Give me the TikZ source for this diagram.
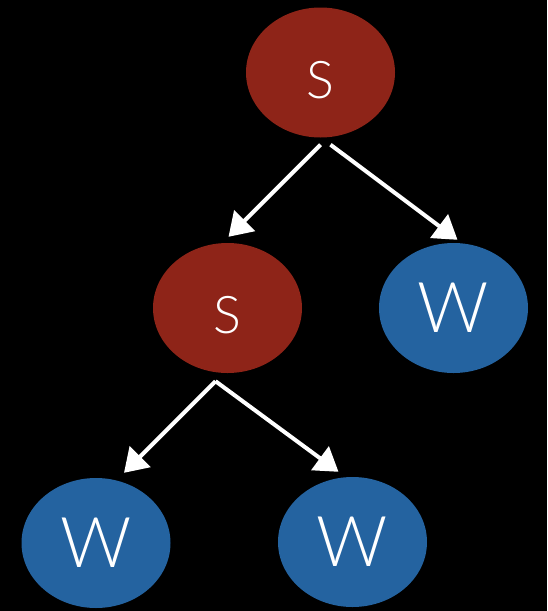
\documentclass[tikz,border=0pt]{standalone}
\usepackage{fontspec}
\newfontfamily\nodefont{Lato Light}
\usetikzlibrary{arrows.meta,shapes.geometric}

\definecolor{sred}{HTML}{8E2418}
\definecolor{wblue}{HTML}{2463A0}

\tikzset{
  tree/.style={ellipse, minimum width=149pt, minimum height=130pt, inner sep=0pt, text=white},
  snode/.style={tree, fill=sred, text height=51pt, text depth=0pt, font=\nodefont\fontsize{52}{52}\selectfont},
  wnode/.style={tree, fill=wblue, font=\nodefont\fontsize{70}{70}\selectfont},
  edge/.style={draw=white, line width=4pt, -{Triangle[width=29pt,length=23pt]}}
}

\begin{document}
\begin{tikzpicture}[x=1pt, y=-1pt]
  \fill[black] (0,0) rectangle (547,611);
  \useasboundingbox (0,0) rectangle (547,611);

  \node[snode] (root) at (320.5,72.5) {S};
  \node[snode] (left) at (227.5,308) {S};
  \node[wnode] (right) at (453.5,308) {W};
  \node[wnode] (ll) at (96,543) {W};
  \node[wnode] (lr) at (352.5,542) {W};

  \draw[edge] ([shift={(0,7)}]root.south) -- ([shift={(1,-6)}]left.north);
  \draw[edge] ([shift={(10,7)}]root.south) -- ([shift={(4,-3)}]right.north);
  \draw[edge] ([shift={(-12,8)}]left.south) -- ([shift={(28,-5)}]ll.north);
  \draw[edge] ([shift={(-12,8)}]left.south) -- ([shift={(-14,-5)}]lr.north);
\end{tikzpicture}
\end{document}
